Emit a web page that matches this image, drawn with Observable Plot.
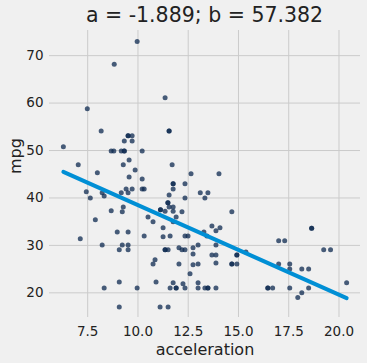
<!DOCTYPE html>
<html>
<head>
<meta charset="utf-8">
<script src="https://cdn.jsdelivr.net/npm/d3@7"></script>
<script src="https://cdn.jsdelivr.net/npm/@observablehq/plot@0.6"></script>
<style>
  html, body { margin: 0; padding: 0; background: #f0f0f0; }
  body { width: 367px; height: 363px; overflow: hidden; font-family: "DejaVu Sans", sans-serif; }
  #title { height: 30px; line-height: 30px; margin-left: 49px; width: 311px; text-align: center; font-size: 20.5px; color: #222; }
</style>
</head>
<body>
<div id="title"></div>
<div id="chart"></div>
<script>
const slopeA = -1.889;
const interceptB = 57.382;
const titleText = "a = -1.889; b = 57.382";
const xLabel = "acceleration";
const yLabel = "mpg";
const xTicks = [7.5, 10, 12.5, 15, 17.5, 20];
const yTicks = [20, 30, 40, 50, 60, 70];

const acceleration = [
  9.96, 8.82, 11.35, 7.48, 8.17, 11.55, 11.55, 9.51, 9.51, 9.71, 9.32, 9.71, 6.29,
  8.67, 8.80, 9.17, 9.32, 9.32, 10.21, 9.56, 7.03, 9.27, 11.7, 9.86, 7.98, 12.64, 14.03,
  9.56, 10.21, 11.75, 11.75, 12.34, 9.41, 9.71, 10.21, 10.31, 11.75, 7.43,
  8.22, 9.17, 9.51, 13.1, 13.48, 8.32, 7.63, 12.34, 13.33, 11.55, 11.49, 11.49,
  9.27, 11.55, 11.75, 11.12, 11.12, 8.67, 9.22, 11.35, 11.75, 12.19, 14.67,
  11.9, 10.5, 10.75, 11.75, 7.88, 13.68, 14.08, 11.25, 18.64, 18.64, 13.88,
  8.97, 9.51, 13.28, 10.31, 11.6, 12.34, 12.49, 13.43, 11.25, 7.13, 17.0, 17.3,
  8.22, 9.22, 9.51, 12.99, 13.88, 12.04, 12.74,
  9.07, 9.51, 11.35, 11.35, 11.5, 12.19, 12.34, 19.24, 19.58, 15.37,
  12.74, 13.68, 13.88, 14.92, 14.92, 10.85, 13.88,
  10.75, 12.04, 12.99, 14.67, 14.67, 14.92, 17.0, 17.55, 12.74,
  17.55, 18.15, 18.49, 12.59, 9.07, 10.9, 11.75, 12.99, 20.38, 12.24,
  8.32, 9.96, 11.6, 11.9, 11.9, 12.34, 12.99, 13.33, 13.48, 13.48, 13.88, 16.46, 16.46, 16.7, 17.55, 18.49,
  18.15, 17.95, 9.07, 11.1, 11.5
];
const mpg = [
  73.0, 68.2, 61.1, 58.8, 54.1, 54.1, 54.1, 53.1, 53.1, 53.1, 52.0, 52.0, 50.8,
  49.9, 49.9, 49.9, 49.9, 49.9, 49.9, 48.0, 47.0, 47.0, 47.0, 45.9, 45.3, 45.1, 45.1,
  44.4, 44.0, 43.0, 43.0, 43.0, 41.9, 41.9, 41.9, 41.9, 41.9, 41.3,
  41.1, 41.1, 41.1, 41.1, 41.1, 40.4, 40.0, 40.0, 40.0, 40.6, 39.0, 39.0,
  38.1, 38.1, 38.1, 37.5, 37.5, 37.3, 37.1, 37.2, 37.2, 37.1, 37.1,
  36.0, 36.0, 35.0, 35.0, 35.4, 34.1, 33.7, 33.7, 33.6, 33.6, 33.1,
  32.8, 32.8, 32.8, 32.0, 32.0, 32.0, 32.0, 32.0, 31.8, 31.4, 31.0, 31.0,
  30.1, 30.1, 30.1, 30.1, 30.1, 29.5, 29.5,
  29.1, 29.1, 29.1, 29.1, 29.1, 29.1, 29.1, 29.1, 29.1, 28.6,
  28.2, 28.0, 28.0, 28.0, 28.0, 27.0, 26.3,
  26.1, 26.1, 26.1, 26.1, 26.1, 26.1, 26.1, 26.1, 25.9,
  25.0, 25.0, 25.0, 24.0, 22.3, 22.3, 22.1, 22.1, 22.1, 21.9,
  21.0, 21.0, 21.0, 21.0, 21.0, 21.0, 21.0, 21.0, 21.0, 21.0, 21.0, 21.0, 21.0, 21.0, 21.0, 21.0,
  20.0, 19.0, 17.0, 17.0, 17.0
];

const points = acceleration.map((x, i) => ({x, y: mpg[i]}));
const xMin = d3.min(acceleration), xMax = d3.max(acceleration);
const fitLine = [xMin, xMax].map(x => ({x, y: slopeA * x + interceptB}));

document.getElementById("title").textContent = titleText;

const chart = Plot.plot({
  width: 367,
  height: 333,
  marginTop: 0,
  marginBottom: 46,
  marginLeft: 49,
  marginRight: 7,
  style: { background: "#f0f0f0", fontFamily: "DejaVu Sans, sans-serif", fontSize: "13.5px", color: "#222" },
  x: { domain: [5.6, 21.07] },
  y: { domain: [14.8, 75.3] },
  marks: [
    Plot.gridX(xTicks, { stroke: "#cbcbcb", strokeOpacity: 1, strokeWidth: 1 }),
    Plot.gridY(yTicks, { stroke: "#cbcbcb", strokeOpacity: 1, strokeWidth: 1 }),
    Plot.axisX({ ticks: xTicks, tickSize: 0, tickPadding: 9, tickFormat: d => d.toFixed(1), label: null, fontSize: 13.5 }),
    Plot.axisY({ ticks: yTicks, tickSize: 0, tickPadding: 6, tickFormat: d => String(d), label: null, fontSize: 13.5 }),
    Plot.dot(points, { x: "x", y: "y", r: 2.5, fill: "#0e2a50", fillOpacity: 0.75, stroke: "none" }),
    Plot.line(fitLine, { x: "x", y: "y", stroke: "#008fd5", strokeWidth: 4 }),
    Plot.text([xLabel], { frameAnchor: "bottom", dy: 37, fontSize: 16, fill: "#222", text: d => d }),
    Plot.text([yLabel], { frameAnchor: "left", dx: -34, rotate: -90, fontSize: 16, fill: "#222", text: d => d })
  ]
});
document.getElementById("chart").appendChild(chart);
</script>
</body>
</html>
